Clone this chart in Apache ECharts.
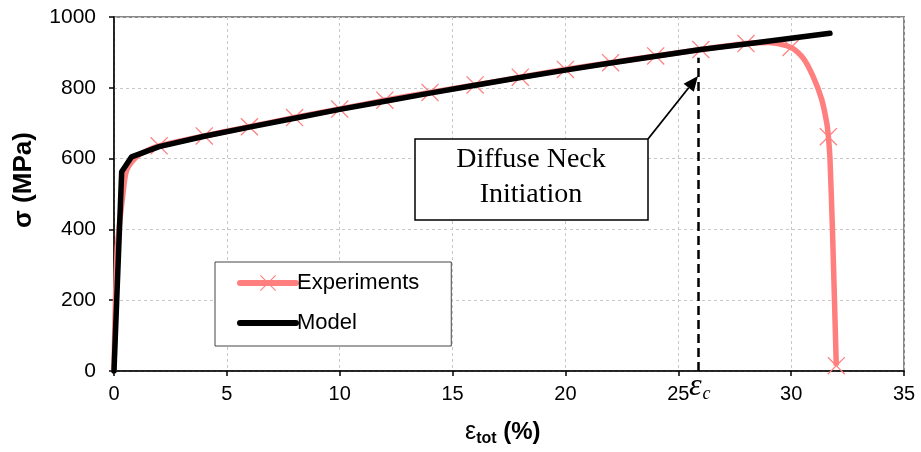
<!DOCTYPE html>
<html>
<head>
<meta charset="utf-8">
<script src="https://cdn.jsdelivr.net/npm/echarts@6/dist/echarts.min.js"></script>
<style>html,body{margin:0;padding:0;background:#fff}#c{width:921px;height:452px}</style>
</head>
<body>
<div id="c"></div>
<script>
// Experiments curve (strain %, stress MPa)
const expStrain = [0, 0.14, 0.4, 0.56, 1.0, 1.5, 2, 4, 6, 8, 10, 12, 14, 16, 18, 20, 22, 24, 26, 28, 29, 30, 30.54, 30.98, 31.35, 31.58, 31.65, 31.72, 31.83, 31.92, 32.0];
const expStress = [0, 342, 502, 567, 605, 624, 636, 664, 690, 716, 740, 765, 787, 808, 830, 852, 871, 890, 908, 925, 928, 914, 883, 831, 768, 700, 662, 600, 400, 200, 15];
// strains at which the experiment markers are drawn
const expMarkerStrain = [2, 4, 6, 8, 10, 12, 14, 16, 18, 20, 22, 24, 26, 28, 30, 31.65, 32.0];
// Model curve
const modelStrain = [0, 0.34, 0.78, 2, 4, 6, 8, 10, 12, 14, 16, 18, 20, 22, 24, 26, 28, 30, 31.72];
const modelStress = [0, 563, 605, 634, 663, 689, 714, 739, 762, 785, 807, 829, 850, 870, 889, 908, 924, 940, 954];
// Diffuse neck initiation strain
const neckStrain = 25.9;
const neckStressTop = 885;
// axis ticks
const xTicks = [0, 5, 10, 15, 20, 25, 30, 35];
const yTicks = [0, 200, 400, 600, 800, 1000];

const crossPath = 'path://M0,0.5L0.5,0L5,4.5L9.5,0L10,0.5L5.5,5L10,9.5L9.5,10L5,5.5L0.5,10L0,9.5L4.5,5Z';
const pink = '#FF7F7F';

const expData = expStrain.map((x, i) => {
  const marked = expMarkerStrain.indexOf(x) >= 0;
  return marked ? {value: [x, expStress[i]]} : {value: [x, expStress[i]], symbol: 'none'};
});
const modelData = modelStrain.map((x, i) => [x, modelStress[i]]);

const chart = echarts.init(document.getElementById('c'), null, {renderer: 'canvas'});
const FONT = '"Liberation Sans", Arial, sans-serif';
const SERIF = '"Liberation Serif", "Times New Roman", serif';

chart.setOption({
  animation: false,
  backgroundColor: '#fff',
  grid: {left: 114, right: 17, top: 17, bottom: 81, show: true, borderColor: '#888', borderWidth: 2, backgroundColor: 'transparent'},
  xAxis: {
    type: 'value', min: xTicks[0], max: xTicks[xTicks.length - 1], interval: xTicks[1] - xTicks[0],
    axisLine: {lineStyle: {color: '#000', width: 1.5}},
    axisTick: {show: true, inside: false, length: 5, lineStyle: {color: '#000', width: 1.5}},
    axisLabel: {color: '#000', fontSize: 20, fontFamily: FONT, margin: 13, formatter: v => String(v)},
    splitLine: {show: true, lineStyle: {color: '#c8c8c8', type: [3, 3], width: 1}}
  },
  yAxis: {
    type: 'value', min: yTicks[0], max: yTicks[yTicks.length - 1], interval: yTicks[1] - yTicks[0],
    axisLine: {show: true, lineStyle: {color: '#000', width: 1.5}},
    axisTick: {show: true, inside: false, length: 5, lineStyle: {color: '#000', width: 1.5}},
    axisLabel: {color: '#000', fontSize: 21, fontFamily: FONT, margin: 18, formatter: v => String(v)},
    splitLine: {show: true, lineStyle: {color: '#c8c8c8', type: [3, 3], width: 1}}
  },
  legend: {
    orient: 'vertical', left: 215, top: 262,
    padding: [10, 32, 12, 22], itemGap: 18, itemWidth: 56, itemHeight: 20,
    backgroundColor: '#fff', borderColor: '#444', borderWidth: 1,
    textStyle: {color: '#000', fontSize: 22, fontFamily: FONT, padding: [0, 0, 0, -4]},
    data: [
      {name: 'Experiments', lineStyle: {width: 6, cap: 'round'}},
      {name: 'Model', itemStyle: {opacity: 0}, lineStyle: {width: 6, cap: 'round'}}
    ]
  },
  series: [
    {
      name: 'Experiments', type: 'line', data: expData, smooth: 0.25,
      symbol: crossPath, symbolSize: 18, showAllSymbol: true,
      lineStyle: {color: pink, width: 5.5}, itemStyle: {color: pink},
      z: 3
    },
    {
      name: 'Model', type: 'line', data: modelData, symbol: 'none',
      lineStyle: {color: '#000', width: 5.5, cap: 'round', join: 'round'}, itemStyle: {color: '#000'},
      z: 4,
      markLine: {
        silent: true, symbol: 'none', label: {show: false},
        lineStyle: {color: '#000', type: [9, 5], width: 2.5},
        data: [[{coord: [neckStrain, 0]}, {coord: [neckStrain, neckStressTop]}]]
      }
    }
  ]
});

// annotations
const tip = [698, 76], tail = [648, 139];
const dx = tip[0] - tail[0], dy = tip[1] - tail[1];
const L = Math.sqrt(dx * dx + dy * dy), ux = dx / L, uy = dy / L;
const hl = 15, hw = 6.5;
const bx = tip[0] - hl * ux, by = tip[1] - hl * uy;
const px = -uy, py = ux;

chart.setOption({
  graphic: [
    {type: 'rect', shape: {x: 415, y: 139, width: 233, height: 81}, style: {fill: '#fff', stroke: '#000', lineWidth: 1.5}, z: 10},
    {type: 'text', x: 531, y: 160, style: {text: 'Diffuse Neck', font: '28px ' + SERIF, fill: '#000', textAlign: 'center', textVerticalAlign: 'middle'}, z: 11},
    {type: 'text', x: 531, y: 195, style: {text: 'Initiation', font: '28px ' + SERIF, fill: '#000', textAlign: 'center', textVerticalAlign: 'middle'}, z: 11},
    {type: 'line', shape: {x1: tail[0], y1: tail[1], x2: bx, y2: by}, style: {stroke: '#000', lineWidth: 1.8}, z: 11},
    {type: 'polygon', shape: {points: [[tip[0], tip[1]], [bx + hw * px, by + hw * py], [bx - hw * px, by - hw * py]]}, style: {fill: '#000'}, z: 11},
    {type: 'text', x: 689, y: 371, style: {text: '{e|ε}{c|c}', rich: {
      e: {font: 'italic 32px ' + SERIF, fill: '#000', verticalAlign: 'top', lineHeight: 32},
      c: {font: 'italic 18px ' + SERIF, fill: '#000', verticalAlign: 'bottom', lineHeight: 18, padding: [0, 0, 0, 1]}
    }}, z: 11},
    {type: 'text', x: 24, y: 180, rotation: Math.PI / 2, style: {text: 'σ (MPa)', font: 'bold 26px ' + FONT, fill: '#000', textAlign: 'center', textVerticalAlign: 'middle'}, z: 11},
    {type: 'text', x: 465, y: 417, style: {text: '{e|ε}{s|tot}{n| (%)}', rich: {
      e: {font: '25px ' + FONT, fill: '#000', verticalAlign: 'middle', lineHeight: 30},
      s: {font: 'bold 16px ' + FONT, fill: '#000', verticalAlign: 'bottom', lineHeight: 14},
      n: {font: 'bold 24px ' + FONT, fill: '#000', verticalAlign: 'middle', lineHeight: 30}
    }}, z: 11}
  ]
});
</script>
</body>
</html>
